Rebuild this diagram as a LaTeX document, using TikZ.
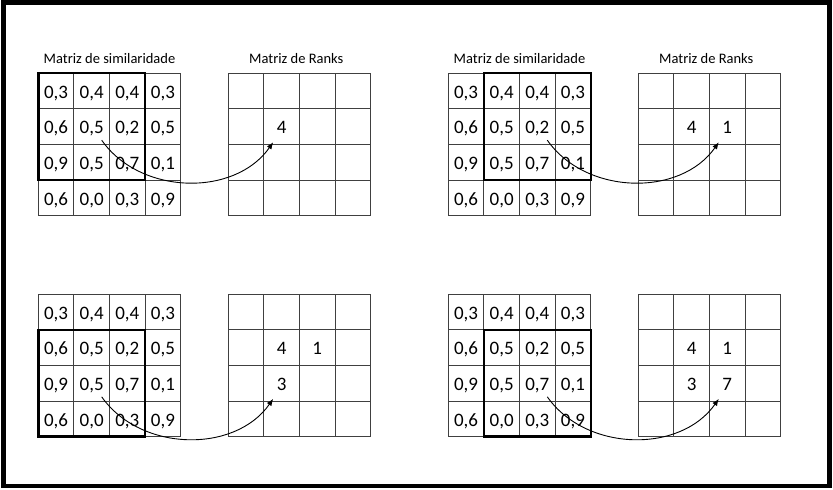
\documentclass[tikz,border=0pt]{standalone}
\usepackage{fontspec}
\setmainfont{Carlito}
\usetikzlibrary{calc,arrows.meta}
% 4x4 similarity grid, values named #1-row-col
\newcommand{\simgrid}[1]{%
  \draw[cell] (0,0) grid (142.41,142.41);
  \foreach \ua/\ub/\uc/\ud [count=\i from 0] in {3/4/4/3,6/5/2/5,9/5/7/1,6/0/3/9}
    \foreach \v [count=\j from 0] in {\ua,\ub,\uc,\ud}
      \node[val] (#1-\i-\j) at ({35.6*(\j+0.5)},{35.6*(3.5-\i)}) {0,\v};
}
\newcommand{\rankgrid}{\draw[cell,xshift=190pt] (0,0) grid (142.41,142.41);}

\begin{document}
\begin{tikzpicture}[x=1pt,y=1pt,
  cell/.style={step=35.6,line width=1.1pt,black!75},
  janela/.style={line width=2.4pt,black},
  val/.style={font=\fontsize{19}{19}\selectfont,inner sep=1pt,text height=12pt,text depth=2.5pt,yshift=-2.5pt},
  titulo/.style={font=\fontsize{14.5}{14.5}\selectfont},
  seta/.style={-{Latex[length=7pt,width=5.5pt]},line width=0.9pt}]
  \useasboundingbox (0,0) rectangle (833,490);
  \draw[line width=4.5pt] (3.5,4) rectangle (829.5,487.5);
  % Top left: window on rows 0-2, cols 0-2
  \begin{scope}[shift={(38.3,274.3)}]
    \node[titulo] (t1) at (71.2,156.7) {Matriz de similaridade};
    \node[titulo] (r1) at (258,156.7) {Matriz de Ranks};
    \simgrid{a} \rankgrid
    \draw[janela] (0,35.6) rectangle (106.8,142.4);
    \node[val] (ar-1-1) at (243.4,89) {4};
    \draw[seta] ($(a-1-1)+(10,-11)$) to[out=-55,in=-125] ($(ar-1-1)+(-8.5,-13)$);
  \end{scope}
  % Top right: window moved one column
  \begin{scope}[shift={(448.3,274.3)}]
    \node[titulo] (t2) at (71.2,156.7) {Matriz de similaridade};
    \node[titulo] (r2) at (258,156.7) {Matriz de Ranks};
    \simgrid{b} \rankgrid
    \draw[janela] (35.6,35.6) rectangle (142.4,142.4);
    \node[val] (br-1-1) at (243.4,89) {4};
    \node[val] (br-1-2) at (279,89) {1};
    \draw[seta] ($(b-1-2)+(10,-11)$) to[out=-55,in=-125] ($(br-1-2)+(-8.5,-13)$);
  \end{scope}
  % Bottom left: window moved one row
  \begin{scope}[shift={(38.3,53.3)}]
    \simgrid{c} \rankgrid
    \draw[janela] (0,0) rectangle (106.8,106.8);
    \node[val] (cr-1-1) at (243.4,89) {4};
    \node[val] (cr-1-2) at (279,89) {1};
    \node[val] (cr-2-1) at (243.4,53.4) {3};
    \draw[seta] ($(c-2-1)+(10,-11)$) to[out=-55,in=-125] ($(cr-2-1)+(-8.5,-13)$);
  \end{scope}
  % Bottom right: last window
  \begin{scope}[shift={(448.3,53.3)}]
    \simgrid{d} \rankgrid
    \draw[janela] (35.6,0) rectangle (142.4,106.8);
    \node[val] (dr-1-1) at (243.4,89) {4};
    \node[val] (dr-1-2) at (279,89) {1};
    \node[val] (dr-2-1) at (243.4,53.4) {3};
    \node[val] (dr-2-2) at (279,53.4) {7};
    \draw[seta] ($(d-2-2)+(10,-11)$) to[out=-55,in=-125] ($(dr-2-2)+(-8.5,-13)$);
  \end{scope}
\end{tikzpicture}
\end{document}
